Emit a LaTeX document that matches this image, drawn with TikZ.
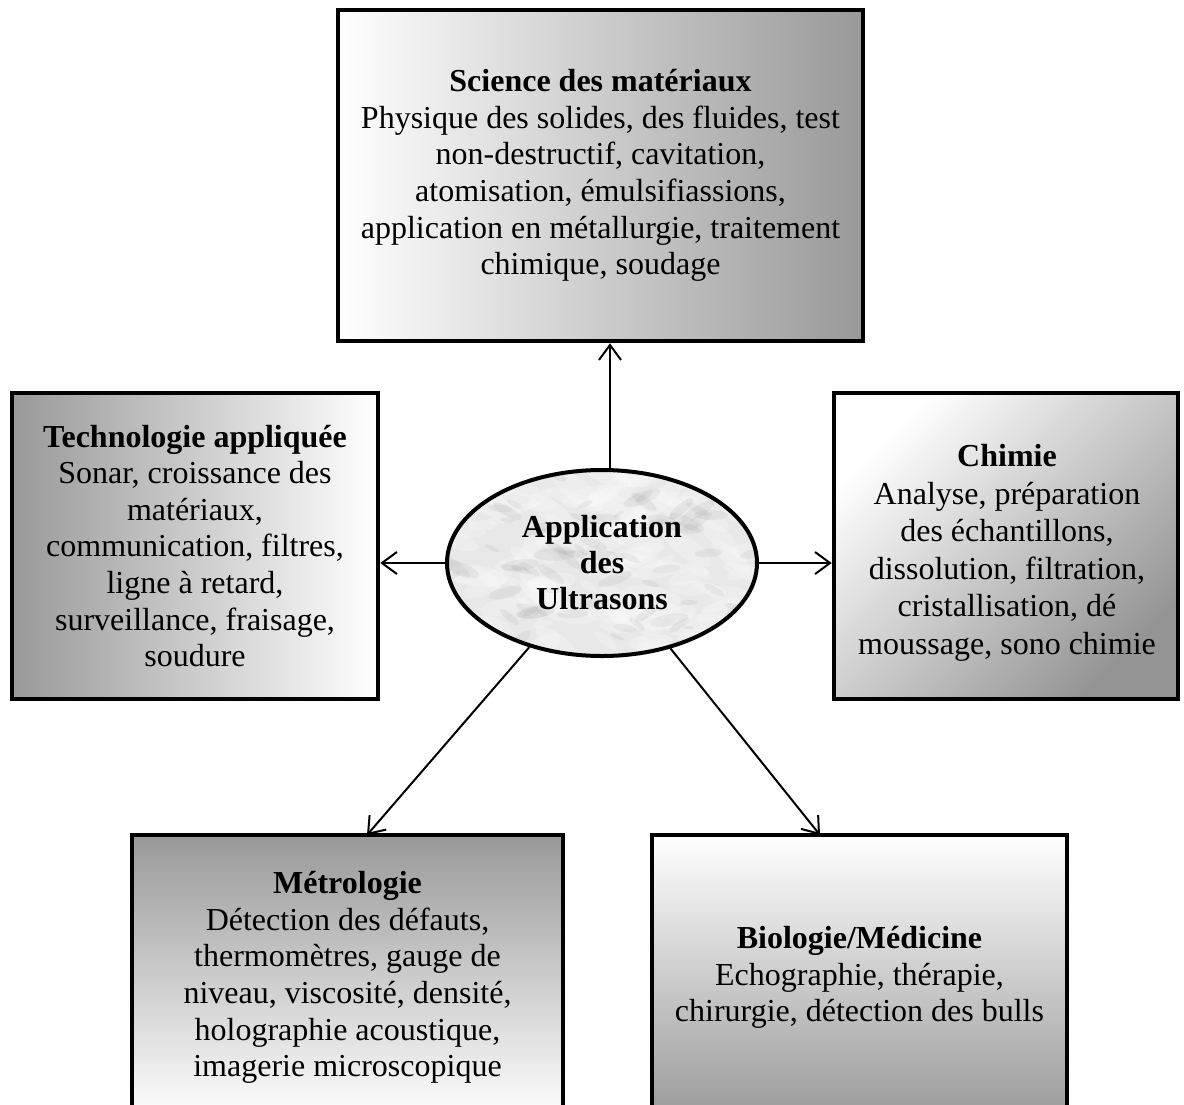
\documentclass[tikz,border=0pt]{standalone}
\usepackage{fontspec}
\setmainfont{Liberation Serif}
\usetikzlibrary{arrows.meta,shapes.geometric}
\begin{document}
\begin{tikzpicture}[x=1pt,y=-1pt,
  box/.style={draw=black, line width=4.5pt, rectangle, align=center, inner sep=0pt,
    font=\fontsize{32}{36.6}\selectfont},
  txt/.style={align=center, inner sep=0pt, font=\fontsize{32}{37.5}\selectfont},
  arr/.style={-{Straight Barb[length=15pt,width=22pt]}, line width=2pt}
]
\clip (0,0) rectangle (1184,1104);
\fill[white] (0,0) rectangle (1184,1104);

% boxes
\node[box, minimum width=525pt, minimum height=331pt, left color=white, right color=black!40] (sci) at (600.5,175.5)
  {\textbf{Science des matériaux}\\Physique des solides, des fluides, test\\non-destructif, cavitation,\\atomisation, émulsifiassions,\\application en métallurgie, traitement\\chimique, soudage};

\node[box, minimum width=366pt, minimum height=306pt, left color=black!40, right color=white] (lft) at (195,546)
  {\textbf{Technologie appliquée}\\Sonar, croissance des\\matériaux,\\communication, filtres,\\ligne à retard,\\surveillance, fraisage,\\soudure};

\node[box, minimum width=344pt, minimum height=306pt, top color=white, bottom color=black!42, shading angle=45] (rgt) at (1006,546) {};
\node[txt] (rgttext) at (1007,553)
  {\textbf{Chimie}\\Analyse, préparation\\des échantillons,\\dissolution, filtration,\\cristallisation, dé\\moussage, sono chimie};

\node[box, minimum width=431pt, minimum height=285pt, top color=black!40, bottom color=white] (met) at (347.5,977.5)
  {\textbf{Métrologie}\\Détection des défauts,\\thermomètres, gauge de\\niveau, viscosité, densité,\\holographie acoustique,\\imagerie microscopique};

\node[box, minimum width=415pt, minimum height=285pt, top color=white, bottom color=black!40] (bio) at (859.5,977.5)
  {\textbf{Biologie/Médicine}\\Echographie, thérapie,\\chirurgie, détection des bulls};

% marble texture of the ellipse
\begin{scope}
  \clip (602,563) ellipse [x radius=155pt, y radius=93pt];
  \fill[black!9] (440,460) rectangle (770,670);
  \pgfmathsetseed{11}
  \foreach \i in {1,...,140}{
    \pgfmathsetmacro{\xx}{447+310*rnd}
    \pgfmathsetmacro{\yy}{470+186*rnd}
    \pgfmathsetmacro{\rr}{10+22*rnd}
    \pgfmathsetmacro{\ry}{0.35*\rr}
    \pgfmathsetmacro{\aa}{-40+80*rnd}
    \fill[white,opacity=0.22,rotate around={\aa:(\xx,\yy)}] (\xx,\yy) ellipse [x radius=\rr pt, y radius=\ry pt];
  }
  \foreach \i in {1,...,90}{
    \pgfmathsetmacro{\xx}{447+310*rnd}
    \pgfmathsetmacro{\yy}{470+186*rnd}
    \pgfmathsetmacro{\rr}{5+16*rnd}
    \pgfmathsetmacro{\ry}{0.3*\rr}
    \pgfmathsetmacro{\aa}{-40+80*rnd}
    \fill[black!40,opacity=0.12,rotate around={\aa:(\xx,\yy)}] (\xx,\yy) ellipse [x radius=\rr pt, y radius=\ry pt];
  }
\end{scope}

\node[draw, ellipse, line width=4pt, minimum width=310pt, minimum height=186pt, inner sep=0pt, align=center,
  font=\bfseries\fontsize{32}{36}\selectfont] (ell) at (602,563) {Application\\des\\Ultrasons};

% connectors
\coordinate (tn) at (610,0);
\coordinate (mt) at (367,835);
\coordinate (bt) at (820,835);
\draw[arr] (tn |- ell.north) -- (tn |- sci.south);
\draw[arr] (ell.west) -- (ell.west -| lft.east);
\draw[arr] (ell.east) -- (ell.east -| rgt.west);
\draw[arr] (ell) -- (mt);
\draw[arr] (ell) -- (bt);
\end{tikzpicture}
\end{document}
